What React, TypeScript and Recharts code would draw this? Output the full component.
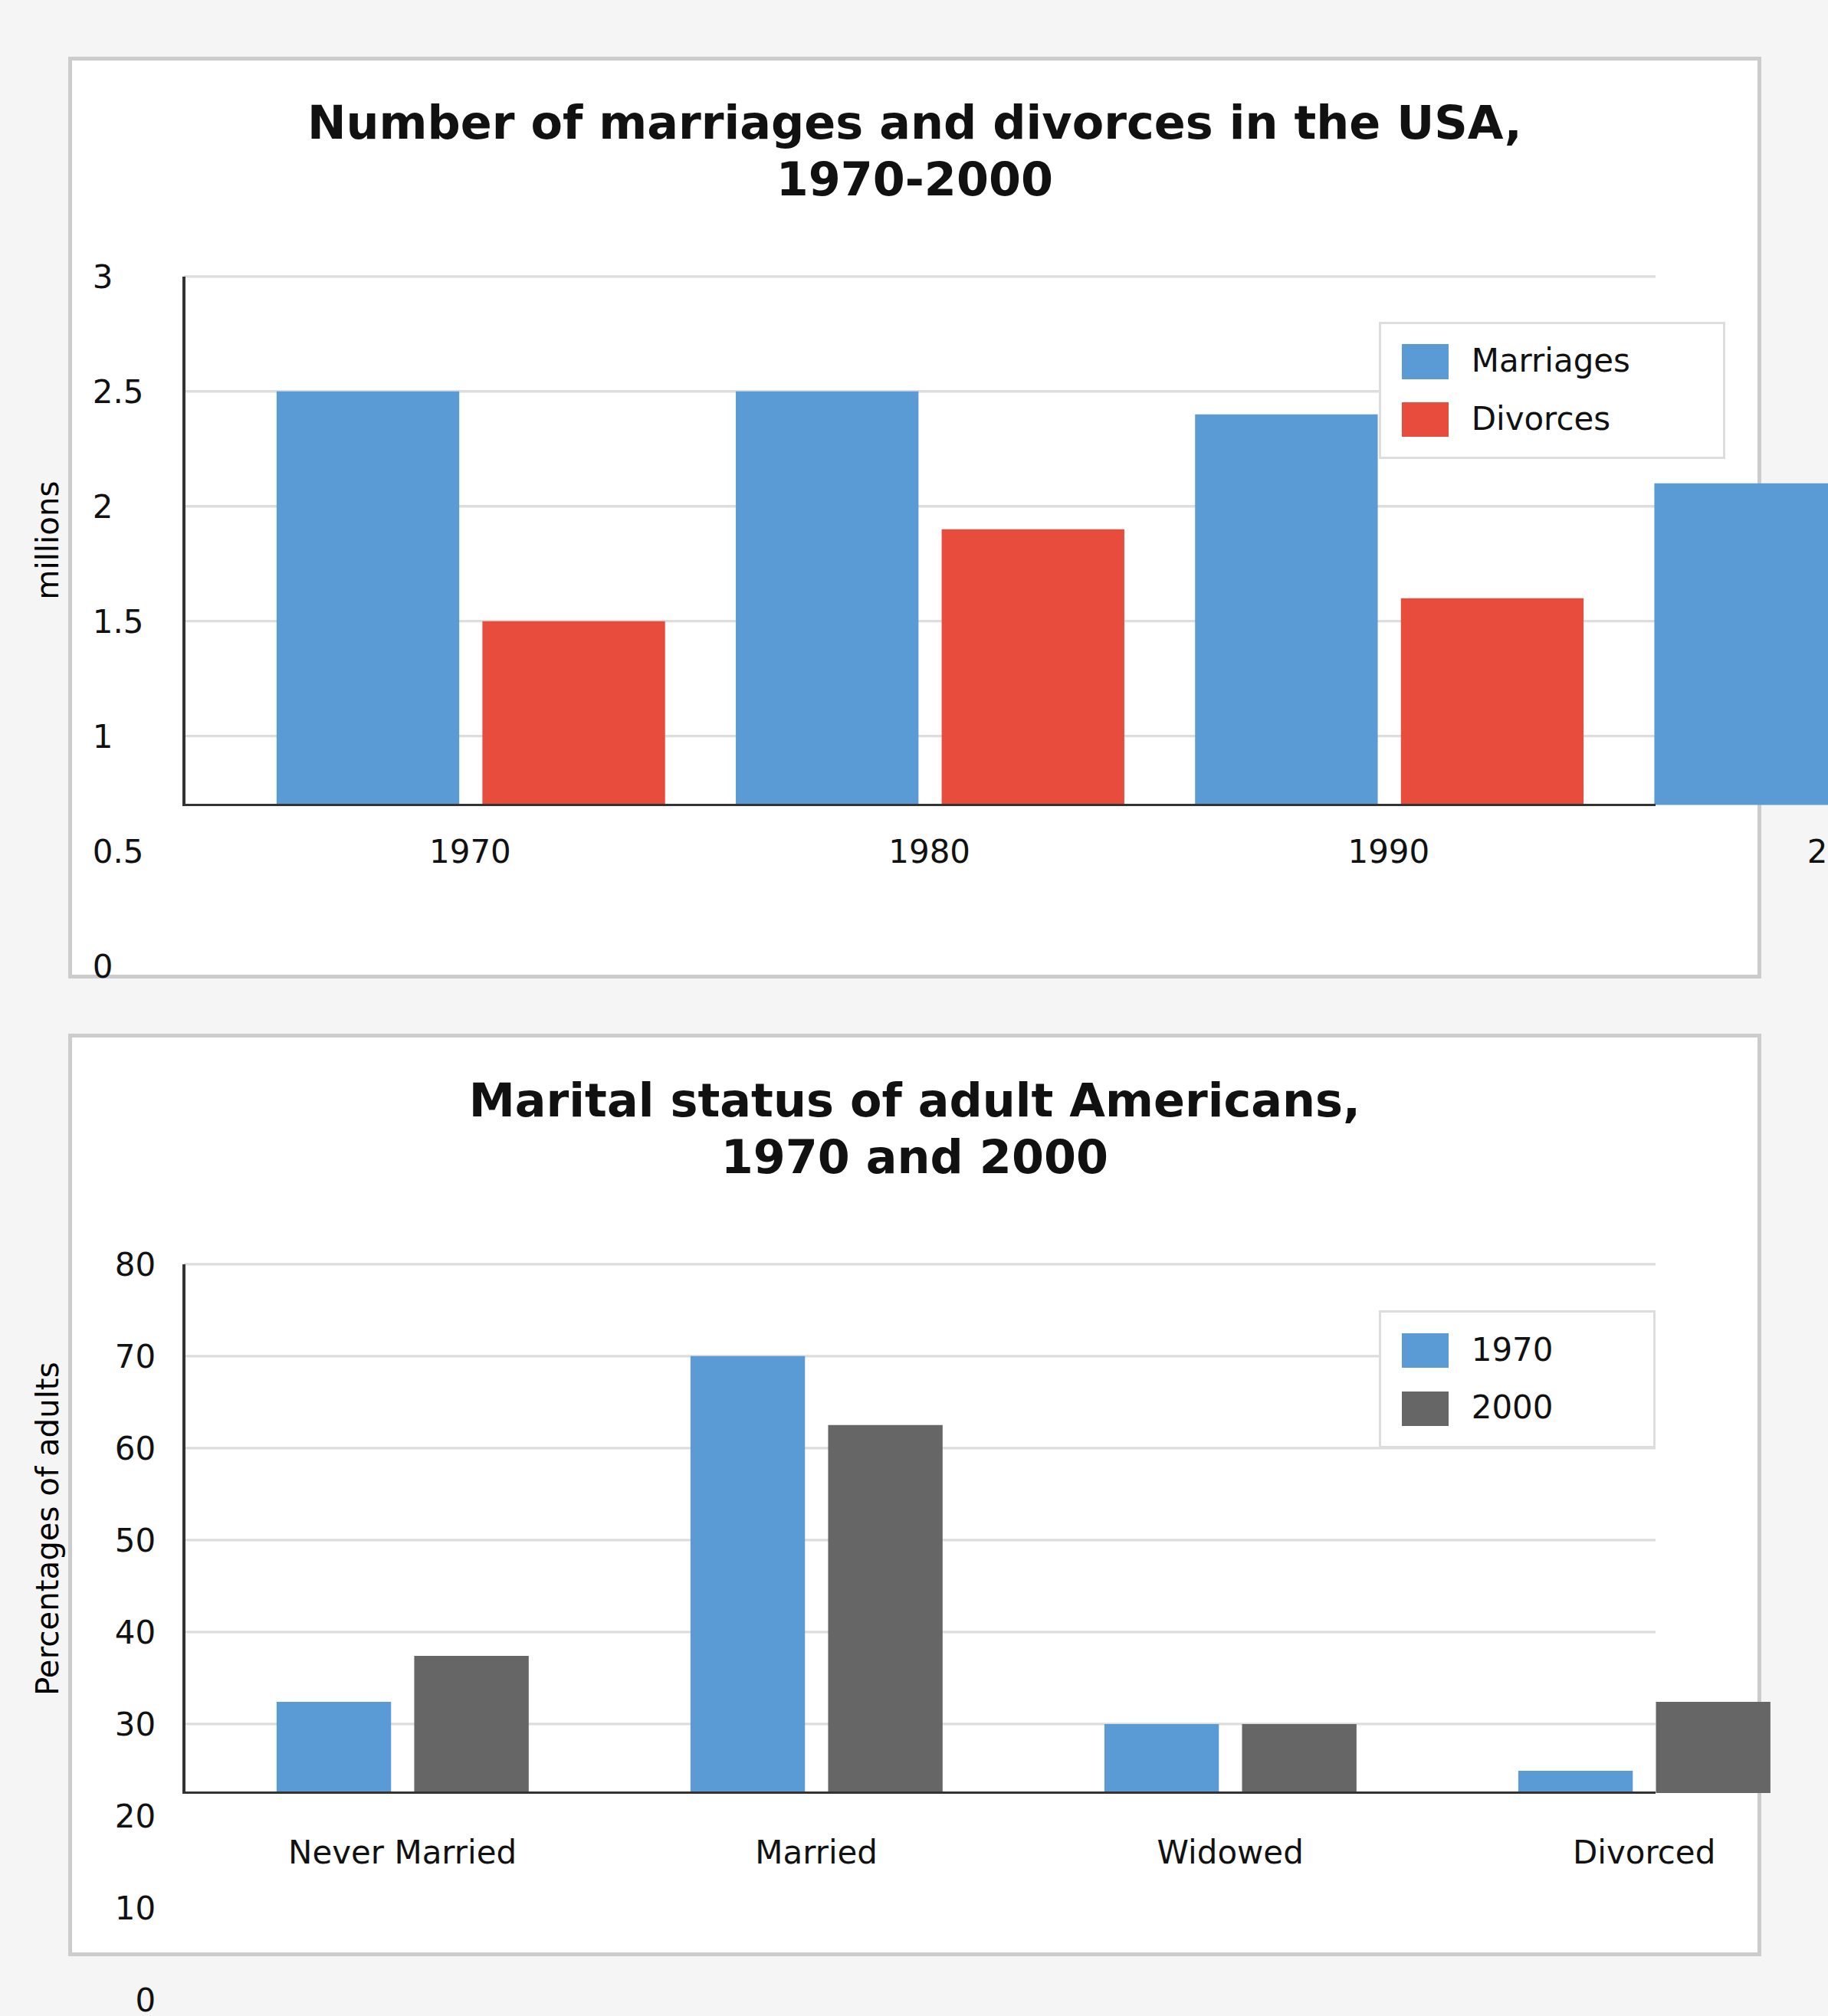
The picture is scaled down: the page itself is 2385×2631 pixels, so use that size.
import { Bar, BarChart, CartesianGrid, XAxis, YAxis } from "recharts";

const YEARS = ["1970", "1980", "1990", "2000"];
const MARRIAGES = [2.5, 2.5, 2.4, 2.1];
const DIVORCES = [1.5, 1.9, 1.6, 1.7];
const BASE1 = 0.7;
const TICKS1 = [0, 0.5, 1, 1.5, 2, 2.5, 3];
const GRID1 = [1, 1.5, 2, 2.5, 3];

const STATUS = ["Never Married", "Married", "Widowed", "Divorced"];
const Y1970 = [32.4, 70, 30, 24.9];
const Y2000 = [37.4, 62.5, 30, 32.4];
const BASE2 = 22.5;
const TICKS2 = [0, 10, 20, 30, 40, 50, 60, 70, 80];
const GRID2 = [30, 40, 50, 60, 70, 80];

const BLUE = "#5b9bd5";
const RED = "#e74c3c";
const GRAY = "#666666";
const FONT = "'DejaVu Sans', sans-serif";
const TICK_SIZE = 25;

const data1 = YEARS.map((y, i) => ({ year: y, base: BASE1, m: MARRIAGES[i] - BASE1, d: DIVORCES[i] - BASE1 }));
const data2 = STATUS.map((s, i) => ({ status: s, base: BASE2, a: Y1970[i] - BASE2, b: Y2000[i] - BASE2 }));

const abs = (l: number, t: number, w: number, h: number, extra: object = {}) =>
  ({ position: "absolute", left: l, top: t, width: w, height: h, ...extra }) as React.CSSProperties;

function Card({ top, lines }: { top: number; lines: string[] }) {
  return (
    <div style={abs(53, top, 1316, 717, { background: "#fff", border: "3px solid #ccc", boxSizing: "border-box" })}>
      <div style={{ marginTop: 27, textAlign: "center", fontWeight: "bold", fontSize: 36, lineHeight: "44px", color: "#111" }}>
        {lines.map((l) => <div key={l}>{l}</div>)}
      </div>
    </div>
  );
}

function LegendBox({ left, top, width, items }: { left: number; top: number; width: number; items: [string, string][] }) {
  return (
    <div style={abs(left, top, width, 107, { background: "#fff", border: "2px solid #ddd", boxSizing: "border-box" })}>
      {items.map(([label, c], i) => (
        <div key={label} style={abs(16, 16 + i * 45, 300, 28)}>
          <div style={abs(0, 0, 36, 27, { background: c })} />
          <div style={abs(54, -2, 240, 30, { fontSize: 25, lineHeight: "30px", color: "#111" })}>{label}</div>
        </div>
      ))}
    </div>
  );
}

export default function App() {
  return (
    <div style={abs(0, 0, 2385, 2631, { overflow: "hidden", background: "#f5f5f5", fontFamily: FONT })}>
      <div style={{ position: "relative", width: 1421, height: 1568, zoom: 2385 / 1421 }}>
        <Card top={44} lines={["Number of marriages and divorces in the USA,", "1970-2000"]} />
        <Card top={804} lines={["Marital status of adult Americans,", "1970 and 2000"]} />

        <div style={abs(0, 0, 1625, 800)}>
          <BarChart width={1625} height={791} data={data1} margin={{ top: 215, right: 10, left: 43, bottom: 0 }}
            barCategoryGap={28} barGap={18}>
            <CartesianGrid vertical={false} horizontalValues={GRID1} x={143} width={1144} stroke="#ddd" strokeWidth={2} />
            <XAxis dataKey="year" height={40} axisLine={false} tickLine={false} padding={{ left: 44, right: 0 }}
              tick={({ x, payload }: any) => (
                <text x={x} y={671} textAnchor="middle" fontSize={TICK_SIZE} fill="#111" fontFamily={FONT}>{payload.value}</text>
              )} />
            <YAxis width={100} domain={[0, 3]} ticks={TICKS1} axisLine={false} tickLine={false}
              tick={({ y, payload }: any) => (
                <text x={72} y={y + 9} textAnchor="start" fontSize={TICK_SIZE} fill="#111" fontFamily={FONT}>{payload.value}</text>
              )} />
            <Bar dataKey="base" stackId="m" fill="transparent" barSize={142} isAnimationActive={false} />
            <Bar dataKey="m" stackId="m" fill={BLUE} barSize={142} isAnimationActive={false} />
            <Bar dataKey="base" stackId="d" fill="transparent" barSize={142} isAnimationActive={false} />
            <Bar dataKey="d" stackId="d" fill={RED} barSize={142} isAnimationActive={false} />
          </BarChart>
        </div>
        <div style={abs(142, 215, 2, 412, { background: "#333" })} />
        <div style={abs(142, 625, 1145, 2, { background: "#333" })} />
        <div style={abs(-13, 405, 100, 30, { transform: "rotate(-90deg)", fontSize: 24, lineHeight: "30px", textAlign: "center", whiteSpace: "nowrap" })}>millions</div>
        <LegendBox left={1072} top={250} width={269} items={[["Marriages", BLUE], ["Divorces", RED]]} />

        <div style={abs(0, 0, 1460, 1600)}>
          <BarChart width={1449} height={1595} data={data2} margin={{ top: 983, right: 10, left: 43, bottom: 0 }}
            barCategoryGap={63} barGap={18}>
            <CartesianGrid vertical={false} horizontalValues={GRID2} x={143} width={1144} stroke="#ddd" strokeWidth={2} />
            <XAxis dataKey="status" height={40} axisLine={false} tickLine={false} padding={{ left: 9, right: 0 }}
              tick={({ x, payload }: any) => (
                <text x={x} y={1449} textAnchor="middle" fontSize={TICK_SIZE} fill="#111" fontFamily={FONT}>{payload.value}</text>
              )} />
            <YAxis width={100} domain={[0, 80]} ticks={TICKS2} axisLine={false} tickLine={false}
              tick={({ y, payload }: any) => (
                <text x={121} y={y + 9} textAnchor="end" fontSize={TICK_SIZE} fill="#111" fontFamily={FONT}>{payload.value}</text>
              )} />
            <Bar dataKey="base" stackId="a" fill="transparent" barSize={89} isAnimationActive={false} />
            <Bar dataKey="a" stackId="a" fill={BLUE} barSize={89} isAnimationActive={false} />
            <Bar dataKey="base" stackId="b" fill="transparent" barSize={89} isAnimationActive={false} />
            <Bar dataKey="b" stackId="b" fill={GRAY} barSize={89} isAnimationActive={false} />
          </BarChart>
        </div>
        <div style={abs(142, 983, 2, 412, { background: "#333" })} />
        <div style={abs(142, 1393, 1145, 2, { background: "#333" })} />
        <div style={abs(-113, 1174, 300, 30, { transform: "rotate(-90deg)", fontSize: 24, lineHeight: "30px", textAlign: "center", whiteSpace: "nowrap" })}>Percentages of adults</div>
        <LegendBox left={1072} top={1019} width={215} items={[["1970", BLUE], ["2000", GRAY]]} />
      </div>
    </div>
  );
}
